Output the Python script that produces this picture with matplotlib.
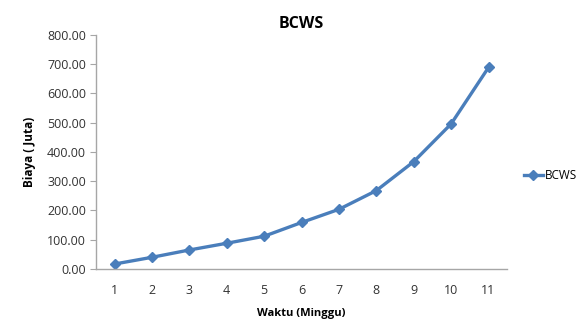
import matplotlib.pyplot as plt
import numpy as np

plt.rcParams['font.family'] = ['Open Sans', 'DejaVu Sans']

# planned cost per week (juta)
minggu = [1, 2, 3, 4, 5, 6, 7, 8, 9, 10, 11]
bcws = [17, 40, 65, 88, 112, 159, 204, 268, 367, 496, 689]
yticks = [0, 100, 200, 300, 400, 500, 600, 700, 800]

blue = '#4a7ebb'
grey = '#a6a6a6'

fig = plt.figure(figsize=(5.81, 3.21), dpi=100)
ax = fig.add_axes([0.165, 0.162, 0.708, 0.729])

x = np.arange(len(minggu))
ax.plot(x, bcws, color=blue, lw=2.4, marker='D', ms=5, mfc=blue, mec=blue,
        label='BCWS')

ax.set_xlim(-0.5, len(minggu) - 0.5)
ax.set_ylim(0, 800)
ax.set_xticks(x)
ax.set_xticklabels([str(m) for m in minggu], fontsize=9, color='#333333')
ax.set_yticks(yticks)
ax.set_yticklabels([f'{v:.2f}' for v in yticks], fontsize=9, color='#333333')
ax.tick_params(axis='x', length=0, pad=11)
ax.tick_params(axis='y', length=4, color=grey, direction='out', pad=3)

for side in ['top', 'right']:
    ax.spines[side].set_visible(False)
for side in ['left', 'bottom']:
    ax.spines[side].set_color(grey)
    ax.spines[side].set_linewidth(1)

ax.set_title('BCWS', fontsize=11.5, fontweight='bold', pad=5)
ax.set_xlabel('Waktu (Minggu)', fontsize=8, fontweight='bold', labelpad=8)
ax.set_ylabel('Biaya ( Juta)', fontsize=8.5, fontweight='bold', labelpad=8)

ax.legend(loc='center left', bbox_to_anchor=(1.015, 0.4), frameon=False,
          fontsize=8.5, handlelength=1.6, handletextpad=0.15)

fig.savefig('out.png', dpi=100)
